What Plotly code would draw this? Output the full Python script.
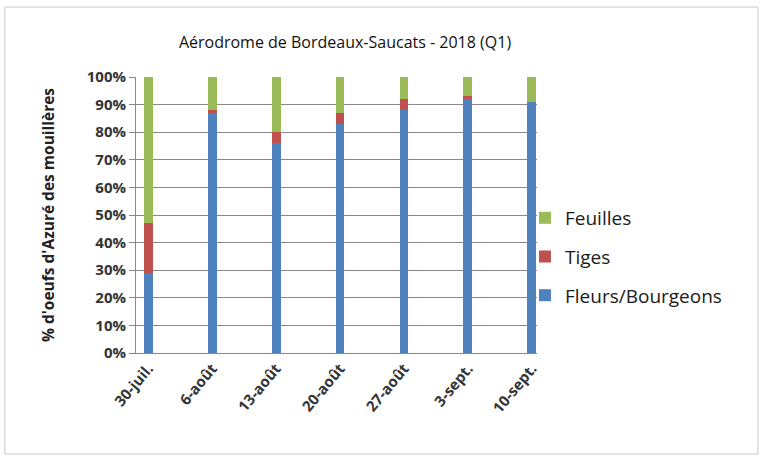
import plotly.graph_objects as go

dates = ["30-juil.", "6-août", "13-août", "20-août", "27-août", "3-sept.", "10-sept."]
fleurs = [29, 87, 76, 83, 88, 92, 91]
tiges = [18, 1, 4, 4, 4, 1, 0]
feuilles = [53, 12, 20, 13, 8, 7, 9]
y_ticks = [0, 10, 20, 30, 40, 50, 60, 70, 80, 90, 100]
y_labels = [f"<b>{v}%</b>" for v in y_ticks]

FONT = "Open Sans, sans-serif"
series = [
    ("Fleurs/Bourgeons", fleurs, "#4F81BD", 3),
    ("Tiges", tiges, "#C0504D", 2),
    ("Feuilles", feuilles, "#9BBB59", 1),
]

fig = go.Figure()
for name, vals, col, rank in series:
    fig.add_trace(go.Bar(x=list(range(len(dates))), y=vals, name=name, legendgroup=name,
                         legendrank=rank,
                         marker=dict(color=col, line=dict(width=0)), width=0.14))

fig.update_layout(
    barmode="stack",
    width=765, height=460,
    margin=dict(l=136, r=228, t=77, b=107),
    paper_bgcolor="white", plot_bgcolor="white",
    font=dict(family=FONT, color="#222"),
    title=dict(text="Aérodrome de Bordeaux-Saucats - 2018 (Q1)", x=345/765, xanchor="center",
               y=1 - 42/460, yanchor="middle", font=dict(size=16, color="#111")),
    legend=dict(traceorder="grouped", x=0.97, xanchor="left", y=0.348, yanchor="middle",
                bgcolor="rgba(0,0,0,0)",
                font=dict(size=19, color="#1a1a1a"), itemwidth=30, tracegroupgap=11),
    showlegend=True,
)
fig.update_xaxes(range=[-0.19, 6.08], tickmode="array", tickvals=list(range(len(dates))),
                 ticktext=[f"<b>{d}</b>" for d in dates], tickangle=-50,
                 tickfont=dict(size=15, color="#333"),
                 showline=True, linecolor="#888", linewidth=1, showgrid=False,
                 ticks="", zeroline=False)
fig.update_yaxes(range=[0, 100], tickmode="array", tickvals=y_ticks, ticktext=y_labels,
                 tickfont=dict(size=15, color="#333"), showgrid=True, gridcolor="#8a8a8a",
                 gridwidth=1, zeroline=False, ticks="outside", ticklen=6, tickcolor="#888",
                 showline=True, linecolor="#888",
                 title=dict(text="<b>% d'oeufs d'Azuré des mouillères</b>", font=dict(size=15.5, color="#222"),
                            standoff=28))
fig.add_shape(type="rect", xref="paper", yref="paper", x0=-0.327, x1=1.551, y0=-0.366, y1=1.2536,
              line=dict(color="#c8c8c8", width=1), fillcolor="rgba(0,0,0,0)", layer="below")
fig.write_html("out.html")
